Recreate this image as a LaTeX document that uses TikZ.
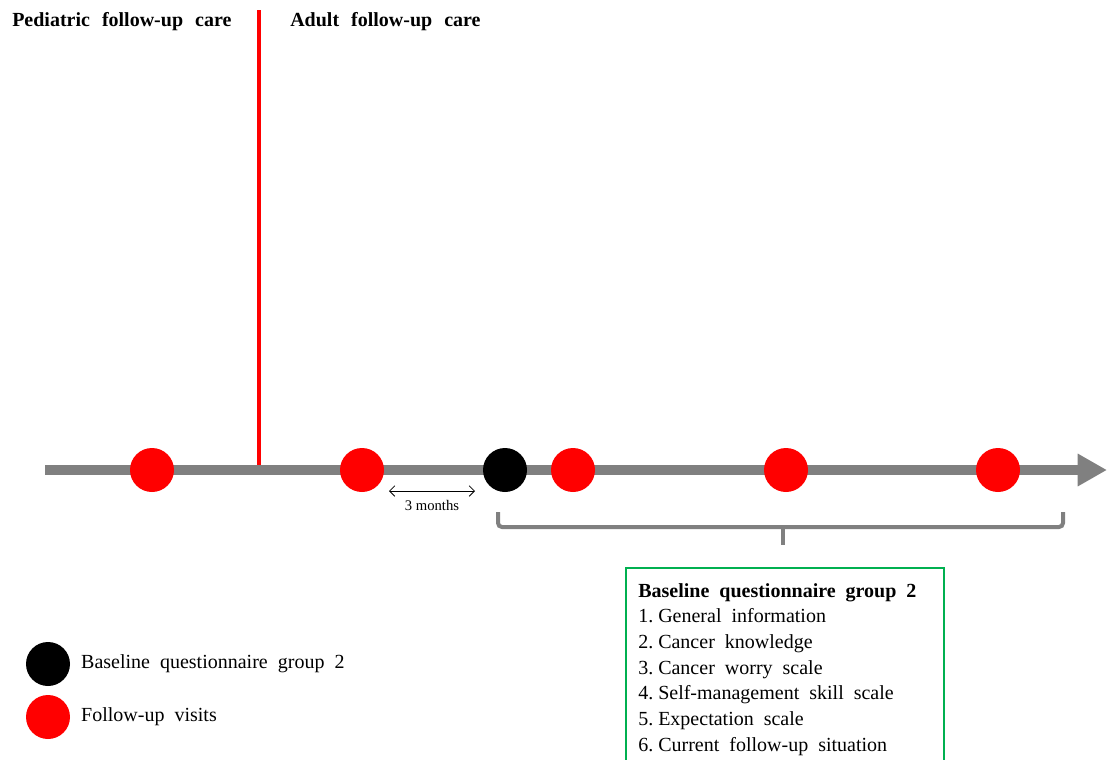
\documentclass[tikz,border=0pt]{standalone}
\usepackage{fontspec}
\setmainfont{Liberation Serif}
\usetikzlibrary{positioning,arrows.meta,calc}
\definecolor{axisgray}{RGB}{128,128,128}
\definecolor{boxgreen}{RGB}{0,176,80}
\newcommand{\widesp}[1]{\spaceskip=#1 plus 0.1em\relax}
\newcommand{\itm}[1]{#1.\hspace{0.25em}}

\begin{document}
\begin{tikzpicture}[x=0.75pt, y=-0.75pt,
  visit/.style={circle, fill=red, minimum size=33pt, inner sep=0pt},
  base/.style={circle, fill=black, minimum size=33pt, inner sep=0pt},
  lbl/.style={font=\fontsize{15}{19.25}\selectfont\widesp{0.5em}, inner sep=0pt, anchor=west},
  head/.style={font=\bfseries\fontsize{15}{18}\selectfont\widesp{0.6em}, inner sep=0pt, anchor=west},
  brace/.style={axisgray, line width=3pt, rounded corners=3pt}
]
\useasboundingbox (0,0) rectangle (1107,760);

% care phases
\node[head] (pediatric) at (12,22) {Pediatric follow-up care};
\node[head] (adult) at (290,22) {Adult follow-up care};
\coordinate (splittop) at (259,10);
\coordinate (splitbot) at (259,467);
\draw[red, line width=2.5pt] (splittop) -- (splitbot);

% time axis
\coordinate (tstart) at (45,470);
\coordinate (tend) at (1107,470);
\draw[axisgray, line width=7.5pt, -{Triangle[width=23pt, length=22pt]}] (tstart) -- (tend);

\node[visit] (v1) at (152,470) {};
\node[visit] (v2) at (362,470) {};
\node[base] (b1) at (505,470) {};
\node[visit] (v3) at (573,470) {};
\node[visit] (v4) at (786,470) {};
\node[visit] (v5) at (998,470) {};

% interval
\coordinate (gapl) at (389,491);
\coordinate (gapr) at (475,491);
\draw[{Straight Barb[length=4pt, width=8pt]}-{Straight Barb[length=4pt, width=8pt]}, line width=0.6pt] (gapl) -- (gapr);
\node[font=\fontsize{11}{13}\selectfont, inner sep=0pt, below=7pt] (gaptxt) at ($(gapl)!0.5!(gapr)$) {3 months};

% bracket under questionnaire period
\coordinate (brl) at (498,512);
\coordinate (brr) at (1063,512);
\coordinate (brm) at (783,545);
\draw[brace] (brl) -- (498,527) -- (1063,527) -- (brr);
\draw[brace] (783,527) -- (brm);

% questionnaire box
\draw[boxgreen, line width=1.5pt] (626,766) |- (944,568) -- (944,766);
\node[lbl, anchor=north west, align=left] (qlist) at (638,583) {\textbf{Baseline questionnaire group 2}\\
\itm{1}General information\\
\itm{2}Cancer knowledge\\
\itm{3}Cancer worry scale\\
\itm{4}Self-management skill scale\\
\itm{5}Expectation scale\\
\itm{6}Current follow-up situation};

% legend
\node[base] (legbase) at (48,664) {};
\node[lbl, right=8pt of legbase] (legbasetxt) {Baseline questionnaire group 2};
\node[visit] (legvisit) at (48,717) {};
\node[lbl, right=8pt of legvisit] (legvisittxt) {Follow-up visits};

\end{tikzpicture}
\end{document}
